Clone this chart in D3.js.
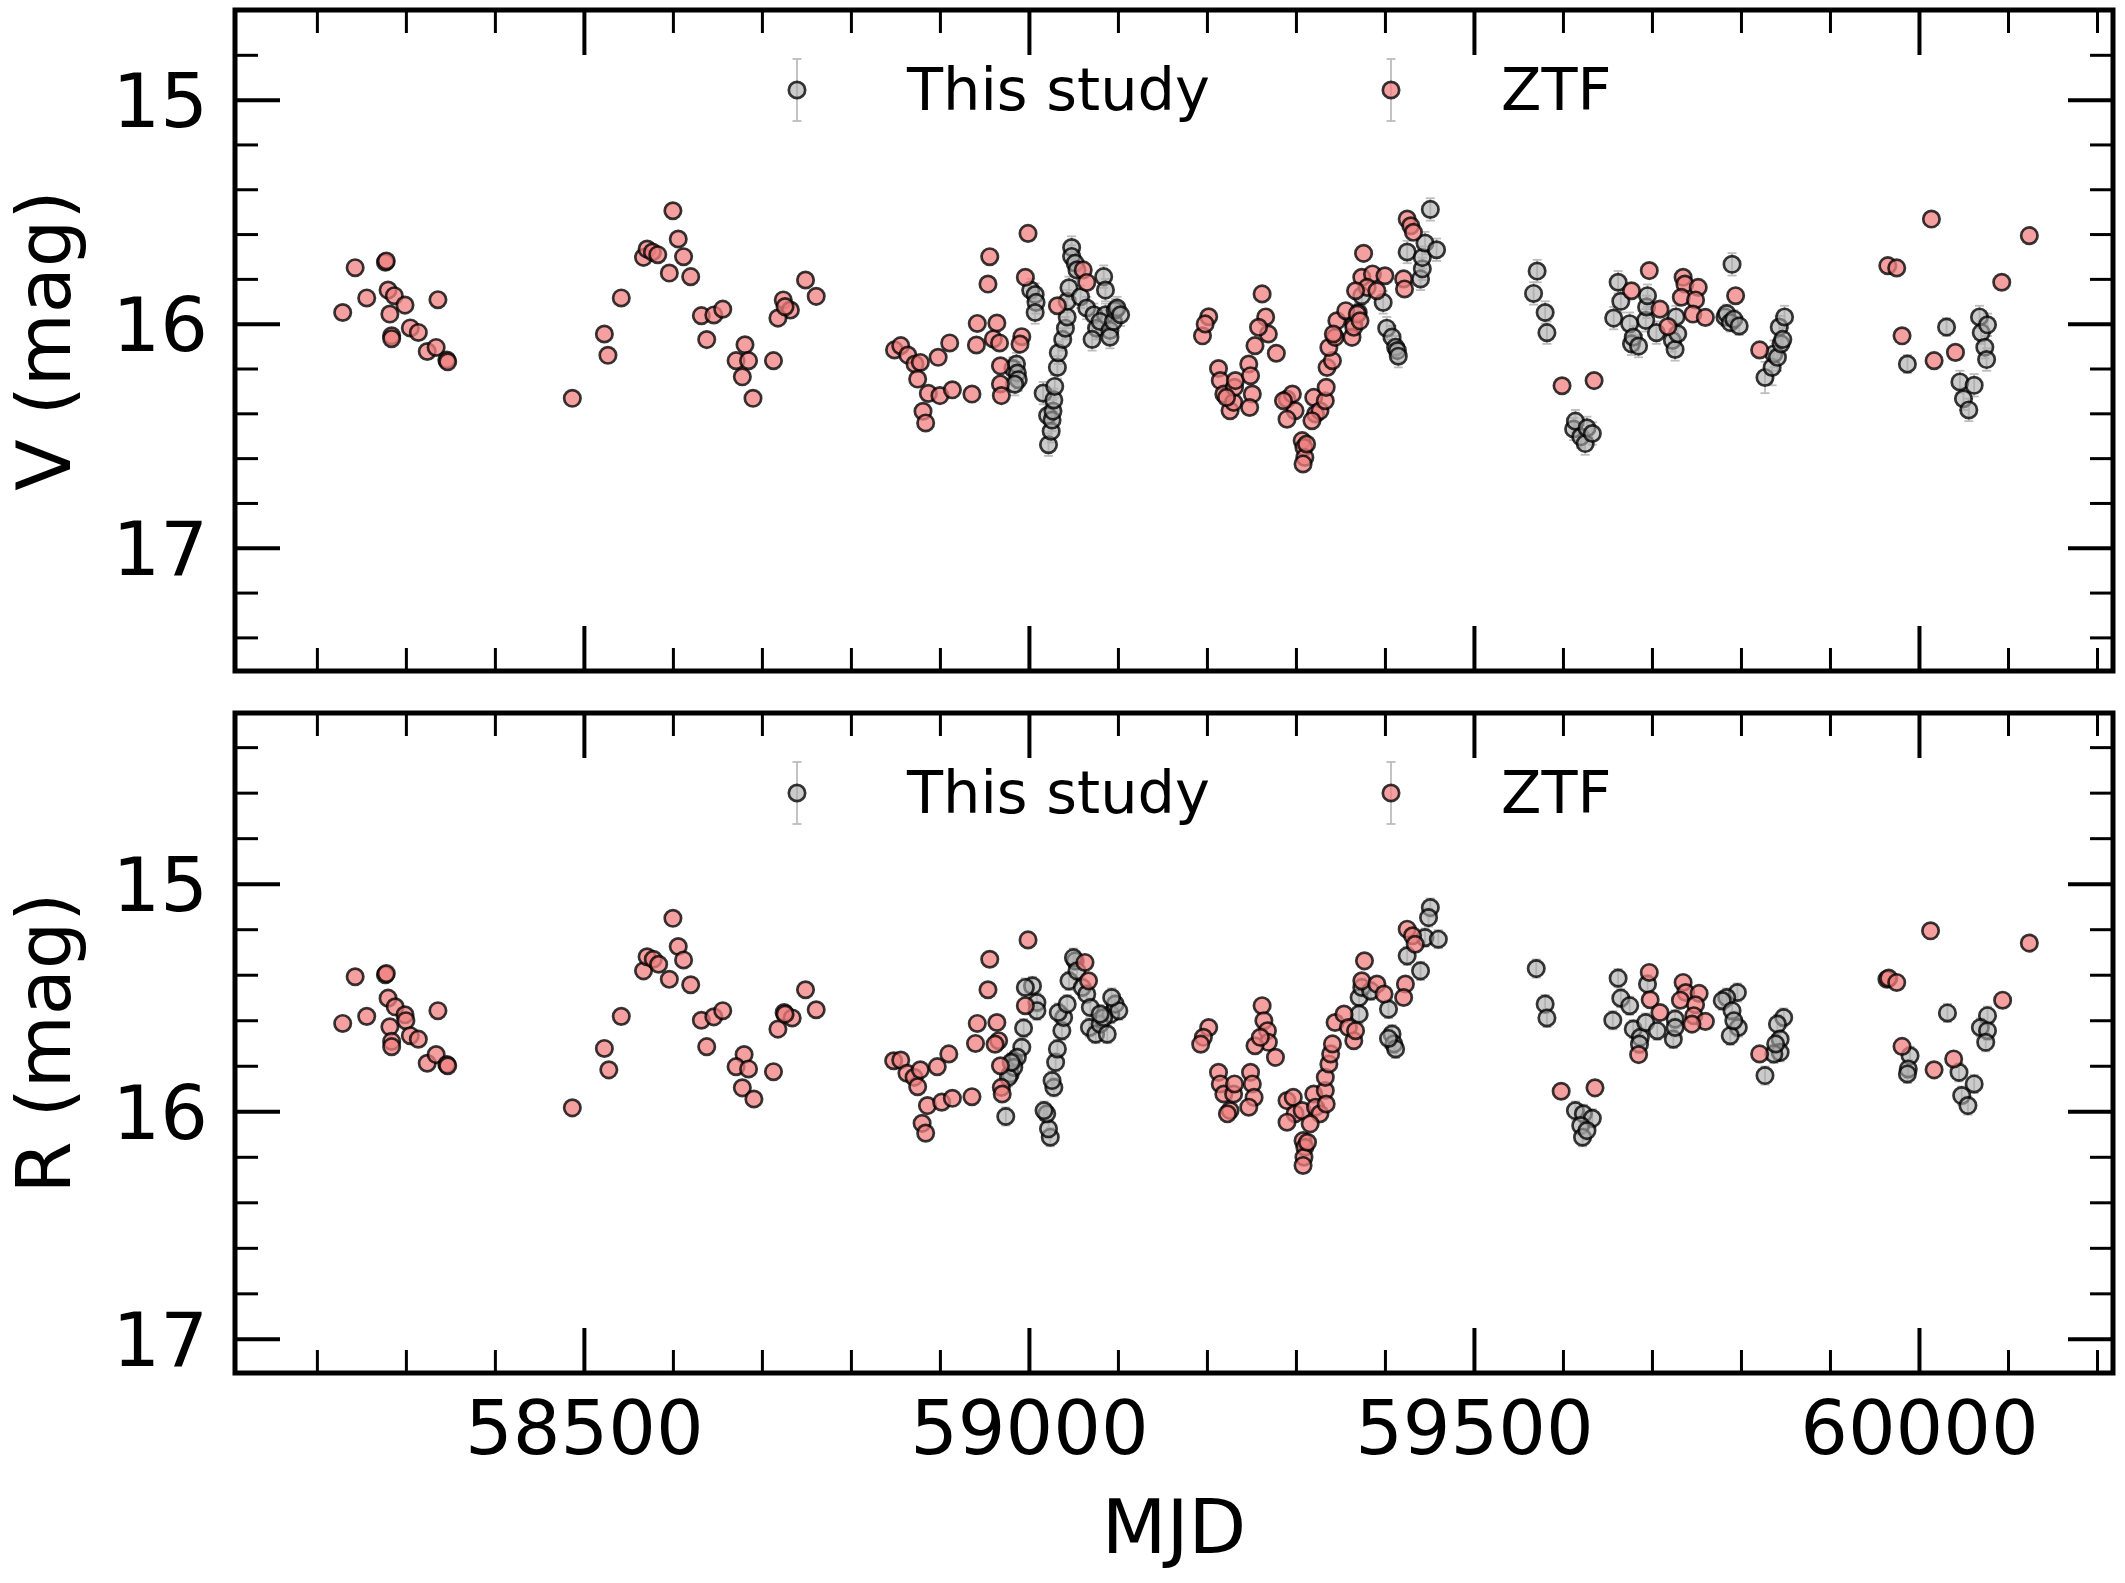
<!DOCTYPE html>
<html>
<head>
<meta charset="utf-8">
<script src="https://cdn.jsdelivr.net/npm/d3@7"></script>
<style>
  body { margin: 0; background: #fff; }
  svg text { font-family: "DejaVu Sans", sans-serif; fill: #000; }
</style>
</head>
<body>
<svg id="lightcurve" width="2125" height="1583"></svg>
<script>
// Axis ranges and ticks
const mjdRange = [58108, 60218];
const vRange = [14.6, 17.55];
const rRange = [14.25, 17.15];
const xMajorTicks = [58500, 59000, 59500, 60000];
const xMinorTicks = [58200, 58300, 58400, 58600, 58700, 58800, 58900, 59100, 59200, 59300,
    59400, 59600, 59700, 59800, 59900, 60100, 60200];
const magMajorTicks = [15, 16, 17];
const vMinorTicks = [14.8, 15.2, 15.4, 15.6, 15.8, 16.2, 16.4, 16.6, 16.8, 17.2, 17.4];
const rMinorTicks = [14.4, 14.6, 14.8, 15.2, 15.4, 15.6, 15.8, 16.2, 16.4, 16.6, 16.8];
const seriesNames = ["This study", "ZTF"];

// V band, this study: [MJD, mag, err]
const vStudy = [
    [58982, 16.20, 0.05], [58986, 16.18, 0.05], [58987, 16.22, 0.05], [58988, 16.25, 0.05], [58984, 16.27, 0.05],
    [59002, 15.85, 0.05], [59007, 15.87, 0.05], [59008, 15.905, 0.05], [59007, 15.95, 0.05],
    [59016, 16.31, 0.05], [59021, 16.41, 0.05], [59022, 16.54, 0.05], [59025, 16.48, 0.05], [59026, 16.43, 0.05],
    [59027, 16.39, 0.05], [59028, 16.34, 0.05], [59029, 16.28, 0.05], [59032, 16.195, 0.05], [59033, 16.13, 0.05],
    [59038, 16.07, 0.05], [59041, 16.02, 0.05], [59043, 15.97, 0.05],
    [59043, 15.90, 0.05], [59045, 15.84, 0.05], [59048, 15.66, 0.05], [59048, 15.70, 0.05], [59052, 15.73, 0.05],
    [59054, 15.76, 0.05], [59058, 15.88, 0.05], [59065, 15.93, 0.05], [59073, 15.96, 0.05], [59076, 16.02, 0.05],
    [59071, 16.07, 0.05], [59084, 15.79, 0.05], [59086, 15.85, 0.05], [59086, 15.96, 0.05], [59080, 15.99, 0.05],
    [59091, 16.03, 0.05], [59091, 16.06, 0.05], [59095, 15.99, 0.05], [59097, 15.94, 0.05], [59099, 15.93, 0.05],
    [59103, 15.96, 0.05],
    [59365, 16.00, 0.04], [59370, 15.95, 0.04], [59374, 15.875, 0.04], [59398, 15.905, 0.05], [59402, 16.02, 0.05],
    [59408, 16.06, 0.05], [59412, 16.105, 0.05], [59414, 16.12, 0.05], [59415, 16.145, 0.05], [59425, 15.68, 0.05],
    [59440, 15.80, 0.05], [59442, 15.755, 0.05], [59442, 15.705, 0.05], [59445, 15.64, 0.05], [59451, 15.49, 0.05],
    [59458, 15.67, 0.05],
    [59567, 15.865, 0.05], [59571, 15.765, 0.05], [59580, 15.95, 0.05], [59582, 16.04, 0.05], [59612, 16.47, 0.05],
    [59614, 16.435, 0.05], [59620, 16.505, 0.05], [59625, 16.535, 0.05], [59627, 16.465, 0.05], [59633, 16.49, 0.05],
    [59657, 15.975, 0.05], [59662, 15.815, 0.05], [59665, 15.90, 0.05], [59675, 16.00, 0.05], [59677, 16.09, 0.05],
    [59679, 16.06, 0.05], [59685, 16.10, 0.05], [59693, 15.985, 0.05], [59694, 15.925, 0.05], [59695, 15.875, 0.05],
    [59705, 16.04, 0.05], [59723, 16.075, 0.05], [59726, 16.115, 0.05], [59727, 15.97, 0.05], [59729, 16.045, 0.05],
    [59782, 15.97, 0.04], [59784, 15.955, 0.04], [59788, 15.995, 0.04], [59790, 15.735, 0.05], [59792, 15.98, 0.04],
    [59798, 16.01, 0.04],
    [59827, 16.24, 0.07], [59835, 16.195, 0.08], [59837, 16.135, 0.06], [59841, 16.15, 0.06], [59843, 16.015, 0.05],
    [59845, 16.09, 0.05], [59847, 16.07, 0.05], [59849, 15.97, 0.05],
    [59987, 16.18, 0.04], [60031, 16.015, 0.04], [60046, 16.26, 0.05], [60050, 16.335, 0.05], [60056, 16.385, 0.05],
    [60062, 16.275, 0.05], [60068, 15.97, 0.05], [60070, 16.04, 0.05], [60074, 16.105, 0.05], [60076, 16.16, 0.05],
    [60077, 16.005, 0.05]
];

// V band, ZTF: [MJD, mag]
const vZtf = [
    [58229, 15.95], [58243, 15.75], [58256, 15.885], [58277, 15.726], [58278, 15.72], [58280, 15.85], [58287, 15.875],
    [58299, 15.917], [58282, 15.957], [58284, 16.054], [58284, 16.067], [58305, 16.019], [58314, 16.039], [58336, 15.893],
    [58324, 16.124], [58334, 16.106], [58346, 16.162], [58347, 16.17],
    [58487, 16.333], [58523, 16.046], [58527, 16.141], [58542, 15.885], [58567, 15.704], [58571, 15.667], [58577, 15.68],
    [58583, 15.692], [58600, 15.496], [58606, 15.622], [58612, 15.701], [58596, 15.774], [58620, 15.79], [58632, 15.964],
    [58646, 15.961], [58656, 15.935], [58638, 16.071], [58681, 16.094], [58671, 16.165], [58685, 16.165], [58678, 16.237],
    [58690, 16.333], [58713, 16.165], [58724, 15.894], [58732, 15.939], [58718, 15.975], [58726, 15.924], [58749, 15.805],
    [58761, 15.878],
    [58849, 16.117], [58856, 16.098], [58864, 16.14], [58872, 16.18], [58878, 16.173], [58875, 16.247], [58881, 16.391],
    [58884, 16.443], [58887, 16.311], [58900, 16.321], [58914, 16.295], [58898, 16.15], [58911, 16.086], [58936, 16.314],
    [58941, 16.095], [58942, 15.999], [58954, 15.823], [58956, 15.701], [58964, 15.997], [58960, 16.068], [58967, 16.086],
    [58968, 16.188], [58968, 16.269], [58969, 16.321], [58992, 16.058], [58990, 16.091], [58999, 15.597], [58996, 15.793],
    [59032, 15.92], [59061, 15.76], [59065, 15.816],
    [59202, 15.969], [59195, 16.054], [59198, 16.001], [59213, 16.20], [59215, 16.254], [59219, 16.314], [59226, 16.388],
    [59230, 16.351], [59231, 16.284], [59232, 16.254], [59222, 16.329], [59247, 16.18], [59249, 16.232], [59251, 16.314],
    [59248, 16.374], [59262, 15.867], [59266, 15.97], [59269, 16.046], [59254, 16.098], [59258, 16.016], [59278, 16.132],
    [59290, 16.336], [59296, 16.314], [59299, 16.388], [59290, 16.426], [59286, 16.344], [59307, 16.522], [59309, 16.552],
    [59310, 16.597], [59308, 16.626], [59312, 16.537], [59320, 16.329], [59322, 16.403], [59327, 16.389], [59333, 16.344],
    [59334, 16.284], [59318, 16.433], [59335, 16.195], [59341, 16.165], [59337, 16.106], [59344, 16.061], [59346, 15.987],
    [59356, 15.942], [59342, 16.046], [59363, 16.061], [59365, 16.016], [59369, 15.957], [59372, 15.987], [59376, 15.686],
    [59374, 15.793], [59386, 15.778], [59400, 15.786], [59380, 15.838], [59391, 15.853], [59367, 15.853], [59421, 15.80],
    [59422, 15.845], [59425, 15.533], [59429, 15.563], [59432, 15.592],
    [59599, 16.277], [59635, 16.254], [59677, 15.853], [59697, 15.763], [59709, 15.935], [59718, 16.013], [59735, 15.793],
    [59737, 15.823], [59752, 15.838], [59733, 15.882], [59749, 15.894], [59746, 15.957], [59760, 15.972], [59794, 15.875],
    [59821, 16.117],
    [59965, 15.741], [59975, 15.751], [60014, 15.533], [60124, 15.607], [60093, 15.815], [59981, 16.054], [60017, 16.165],
    [60041, 16.128]
];

// R band, this study: [MJD, mag, err]
const rStudy = [
    [58974, 16.023, 0.04], [58983, 15.778, 0.04], [58979, 15.836, 0.04], [58994, 15.634, 0.04], [58992, 15.719, 0.04],
    [58987, 15.763, 0.04], [58983, 15.807, 0.04], [58977, 15.851, 0.04], [58980, 15.785, 0.04], [59004, 15.449, 0.04],
    [59009, 15.522, 0.04], [59009, 15.558, 0.04], [58996, 15.456, 0.04],
    [59024, 16.114, 0.04], [59022, 16.077, 0.04], [59020, 16.011, 0.04], [59017, 15.997, 0.04], [59028, 15.895, 0.04],
    [59026, 15.865, 0.04], [59030, 15.785, 0.04], [59032, 15.726, 0.04], [59037, 15.646, 0.04], [59039, 15.588, 0.04],
    [59033, 15.566, 0.04], [59043, 15.529, 0.04], [59045, 15.427, 0.04], [59052, 15.339, 0.04], [59050, 15.325, 0.04],
    [59054, 15.383, 0.04], [59060, 15.456, 0.04], [59065, 15.485, 0.04], [59069, 15.544, 0.04], [59068, 15.632, 0.04],
    [59075, 15.661, 0.04], [59080, 15.617, 0.04], [59088, 15.661, 0.04], [59092, 15.573, 0.04], [59097, 15.529, 0.04],
    [59101, 15.558, 0.04], [59093, 15.50, 0.04], [59084, 15.588, 0.04], [59080, 15.573, 0.04],
    [59371, 15.50, 0.04], [59371, 15.573, 0.04], [59374, 15.456, 0.04], [59384, 15.471, 0.04], [59404, 15.551, 0.04],
    [59408, 15.661, 0.04], [59410, 15.704, 0.04], [59412, 15.726, 0.04], [59404, 15.68, 0.04], [59425, 15.317, 0.04],
    [59440, 15.383, 0.04], [59445, 15.237, 0.04], [59460, 15.244, 0.04], [59451, 15.105, 0.04], [59449, 15.149, 0.04],
    [59570, 15.373, 0.04], [59580, 15.529, 0.04], [59582, 15.59, 0.04], [59614, 15.997, 0.04], [59623, 16.011, 0.04],
    [59633, 16.031, 0.04], [59620, 16.063, 0.04], [59622, 16.114, 0.04], [59627, 16.085, 0.04], [59662, 15.415, 0.04],
    [59665, 15.503, 0.04], [59675, 15.536, 0.04], [59656, 15.60, 0.04], [59679, 15.639, 0.04], [59687, 15.675, 0.04],
    [59686, 15.705, 0.04], [59695, 15.441, 0.04], [59693, 15.61, 0.04], [59706, 15.646, 0.04], [59726, 15.595, 0.04],
    [59724, 15.683, 0.04], [59726, 15.632, 0.04], [59796, 15.478, 0.04], [59784, 15.50, 0.04], [59779, 15.514, 0.04],
    [59790, 15.558, 0.04], [59797, 15.632, 0.04], [59788, 15.668, 0.04], [59792, 15.602, 0.04], [59827, 15.843, 0.04],
    [59848, 15.588, 0.04], [59841, 15.617, 0.04], [59844, 15.683, 0.04], [59844, 15.741, 0.04], [59837, 15.748, 0.04],
    [59839, 15.704, 0.04],
    [60032, 15.568, 0.04], [60077, 15.58, 0.04], [60069, 15.632, 0.04], [60077, 15.646, 0.04], [60075, 15.697, 0.04],
    [59990, 15.756, 0.04], [59988, 15.814, 0.04], [59987, 15.836, 0.04], [60045, 15.829, 0.04], [60062, 15.88, 0.04],
    [60048, 15.931, 0.04], [60055, 15.975, 0.04]
];

// R band, ZTF: [MJD, mag]
const rZtf = [
    [58229, 15.614], [58243, 15.409], [58256, 15.583], [58277, 15.40], [58278, 15.395], [58280, 15.503], [58288, 15.541],
    [58299, 15.576], [58300, 15.602], [58282, 15.629], [58284, 15.693], [58284, 15.716], [58305, 15.668], [58314, 15.683],
    [58336, 15.558], [58324, 15.789], [58334, 15.751], [58346, 15.795], [58347, 15.80],
    [58487, 15.985], [58523, 15.724], [58528, 15.818], [58542, 15.583], [58567, 15.383], [58571, 15.321], [58578, 15.332],
    [58584, 15.354], [58600, 15.152], [58606, 15.276], [58612, 15.335], [58596, 15.42], [58620, 15.444], [58632, 15.60],
    [58646, 15.585], [58656, 15.558], [58638, 15.716], [58680, 15.751], [58671, 15.804], [58685, 15.814], [58678, 15.897],
    [58691, 15.946], [58713, 15.826], [58725, 15.566], [58734, 15.59], [58718, 15.639], [58726, 15.573], [58749, 15.466],
    [58761, 15.554],
    [58848, 15.778], [58856, 15.775], [58863, 15.833], [58871, 15.851], [58878, 15.818], [58875, 15.892], [58880, 16.053],
    [58884, 16.096], [58886, 15.975], [58902, 15.96], [58914, 15.943], [58897, 15.804], [58910, 15.748], [58936, 15.936],
    [58940, 15.702], [58942, 15.614], [58954, 15.466], [58956, 15.332], [58964, 15.61], [58966, 15.69], [58962, 15.705],
    [58968, 15.80], [58969, 15.895], [58970, 15.924], [58999, 15.247], [58996, 15.536], [59063, 15.346], [59067, 15.427],
    [59202, 15.632], [59196, 15.675], [59193, 15.705], [59213, 15.829], [59215, 15.88], [59219, 15.924], [59226, 15.997],
    [59230, 15.924], [59231, 15.88], [59223, 16.011], [59249, 15.829], [59251, 15.88], [59253, 15.939], [59247, 15.982],
    [59262, 15.536], [59264, 15.602], [59268, 15.646], [59269, 15.697], [59254, 15.712], [59277, 15.763], [59260, 15.675],
    [59290, 15.953], [59297, 15.939], [59299, 16.011], [59290, 16.048], [59307, 15.997], [59308, 16.129], [59310, 16.158],
    [59309, 16.202], [59308, 16.238], [59313, 16.136], [59320, 15.924], [59322, 15.982], [59327, 16.011], [59333, 15.909],
    [59334, 15.968], [59316, 16.055], [59333, 15.851], [59337, 15.792], [59339, 15.748], [59341, 15.704], [59344, 15.61],
    [59354, 15.573], [59359, 15.632], [59365, 15.69], [59367, 15.646], [59377, 15.339], [59374, 15.427], [59391, 15.441],
    [59399, 15.485], [59423, 15.441], [59421, 15.50], [59425, 15.20], [59431, 15.229], [59434, 15.266],
    [59598, 15.912], [59636, 15.897], [59685, 15.751], [59697, 15.39], [59698, 15.51], [59709, 15.566], [59735, 15.434],
    [59738, 15.478], [59753, 15.482], [59732, 15.512], [59749, 15.532], [59747, 15.58], [59760, 15.605], [59745, 15.617],
    [59821, 15.748],
    [59964, 15.42], [59966, 15.415], [59975, 15.434], [60013, 15.207], [60124, 15.261], [60094, 15.512], [59981, 15.715],
    [60017, 15.818], [60039, 15.77]
];

// Layout
const frame = { left: 235, right: 2113 };
const majorLen = 45, minorLen = 23;
const tickFont = 75;
const markerR = 8.2;
const edgeWidth = 2.7;

const svg = d3.select("#lightcurve");

const x = d3.scaleLinear().domain(mjdRange).range([frame.left, frame.right]);

const panels = [
    { label: "V (mag)", range: vRange, minor: vMinorTicks, study: vStudy, ztf: vZtf, top: 10, bottom: 671, xLabels: false },
    { label: "R (mag)", range: rRange, minor: rMinorTicks, study: rStudy, ztf: rZtf, top: 713, bottom: 1373, xLabels: true }
];

function styleAxis(sel, width) {
    sel.select(".domain").remove();
    sel.selectAll(".tick line").attr("stroke", "#000").attr("stroke-width", width);
    sel.attr("font-family", "DejaVu Sans, sans-serif").attr("font-size", tickFont);
}

function drawErrorbar(g, cx, y0, y1) {
    g.append("line").attr("x1", cx).attr("x2", cx).attr("y1", y0).attr("y2", y1);
    g.append("line").attr("x1", cx - 4.5).attr("x2", cx + 4.5).attr("y1", y0).attr("y2", y0);
    g.append("line").attr("x1", cx - 4.5).attr("x2", cx + 4.5).attr("y1", y1).attr("y2", y1);
}

function markerStyle(sel, fill, op) {
    sel.attr("r", markerR)
        .attr("fill", fill).attr("fill-opacity", op)
        .attr("stroke", "#000").attr("stroke-opacity", 0.78).attr("stroke-width", edgeWidth);
}

panels.forEach(p => {
    const y = d3.scaleLinear().domain(p.range).range([p.top, p.bottom]);
    const g = svg.append("g");

    // Major and minor ticks on all four sides, pointing inwards
    const axes = [
        [d3.axisBottom, `translate(0,${p.bottom})`, x, xMajorTicks, xMinorTicks, p.xLabels],
        [d3.axisTop, `translate(0,${p.top})`, x, xMajorTicks, xMinorTicks, false],
        [d3.axisLeft, `translate(${frame.left},0)`, y, magMajorTicks, p.minor, true],
        [d3.axisRight, `translate(${frame.right},0)`, y, magMajorTicks, p.minor, false]
    ];
    axes.forEach(([axisFn, tr, scale, major, minor, labels]) => {
        g.append("g").attr("transform", tr)
            .call(axisFn(scale).tickValues(minor).tickSize(-minorLen).tickFormat(""))
            .call(s => styleAxis(s, 3));
        const isLeft = axisFn === d3.axisLeft;
        g.append("g").attr("transform", tr)
            .call(axisFn(scale).tickValues(major).tickSize(-majorLen)
                .tickPadding(isLeft ? 27 : 28)
                .tickFormat(labels ? d3.format("d") : ""))
            .call(s => styleAxis(s, 4))
            .call(s => s.selectAll(".tick text").attr("fill", "#000").attr("dy", isLeft ? "0.36em" : "0.71em"));
    });

    // Frame
    g.append("rect")
        .attr("x", frame.left).attr("y", p.top)
        .attr("width", frame.right - frame.left).attr("height", p.bottom - p.top)
        .attr("fill", "none").attr("stroke", "#000").attr("stroke-width", 5);

    // Error bars for this study
    const eb = g.append("g").attr("stroke", "#bdbdbd").attr("stroke-width", 1.8);
    p.study.forEach(d => drawErrorbar(eb, x(d[0]), y(d[1] - d[2]), y(d[1] + d[2])));

    // This study markers
    g.append("g").selectAll("circle").data(p.study).join("circle")
        .attr("cx", d => x(d[0])).attr("cy", d => y(d[1]))
        .call(s => markerStyle(s, "#a9a9a9", 0.6));

    // ZTF markers
    g.append("g").selectAll("circle").data(p.ztf).join("circle")
        .attr("cx", d => x(d[0])).attr("cy", d => y(d[1]))
        .call(s => markerStyle(s, "#f08080", 0.75));

    // Legend
    const ly = p.top + 80;
    const legendItems = [
        { name: seriesNames[0], mx: 797, tx: 907, fill: "#a9a9a9", op: 0.6 },
        { name: seriesNames[1], mx: 1391, tx: 1501, fill: "#f08080", op: 0.75 }
    ];
    legendItems.forEach(it => {
        const lg = g.append("g");
        const leb = lg.append("g").attr("stroke", "#bdbdbd").attr("stroke-width", 1.8);
        drawErrorbar(leb, it.mx, ly - 31, ly + 31);
        lg.append("circle").attr("cx", it.mx).attr("cy", ly)
            .call(s => markerStyle(s, it.fill, it.op));
        lg.append("text").attr("x", it.tx).attr("y", ly + 20)
            .attr("font-size", 59).text(it.name);
    });

    // Y label
    g.append("text")
        .attr("transform", `translate(70,${(p.top + p.bottom) / 2}) rotate(-90)`)
        .attr("text-anchor", "middle")
        .attr("font-size", tickFont)
        .text(p.label);
});

// X label
svg.append("text")
    .attr("x", (frame.left + frame.right) / 2)
    .attr("y", 1553)
    .attr("text-anchor", "middle")
    .attr("font-size", tickFont)
    .text("MJD");
</script>
</body>
</html>
